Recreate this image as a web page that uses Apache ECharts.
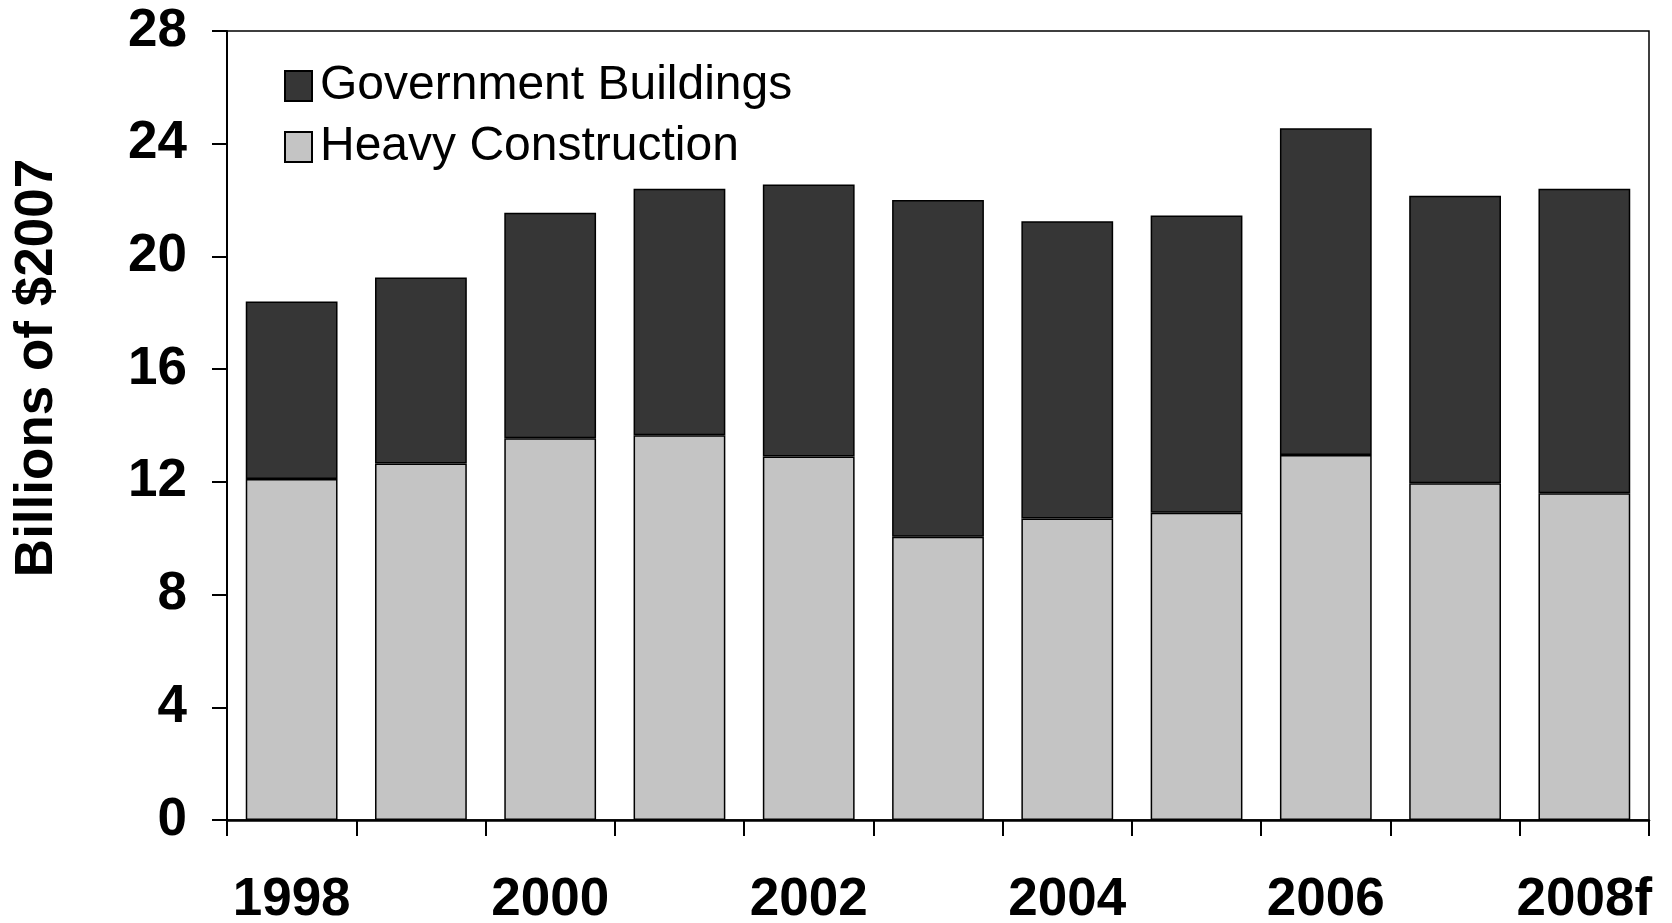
<!DOCTYPE html>
<html>
<head>
<meta charset="utf-8">
<script src="https://cdn.jsdelivr.net/npm/echarts@6/dist/echarts.min.js"></script>
<style>
  html, body { margin: 0; padding: 0; background: #fff; }
  #chart { width: 1672px; height: 923px; }
</style>
</head>
<body>
<div id="chart"></div>
<script>
const years = ['1998', '1999', '2000', '2001', '2002', '2003', '2004', '2005', '2006', '2007', '2008f'];
const heavyConstruction = [12.1, 12.65, 13.55, 13.65, 12.9, 10.05, 10.7, 10.9, 12.95, 11.95, 11.6];
const governmentBuildings = [6.3, 6.6, 8.0, 8.75, 9.65, 11.95, 10.55, 10.55, 11.6, 10.2, 10.8];

const font = "'Liberation Sans', Arial, sans-serif";

const chart = echarts.init(document.getElementById('chart'));

const option = {
  backgroundColor: '#fff',
  animation: false,
  grid: {
    left: 227,
    right: 23,
    top: 31,
    bottom: 103,
    containLabel: false,
    outerBoundsMode: 'none',
    show: true,
    borderColor: '#000',
    borderWidth: 1.5
  },
  legend: {
    orient: 'vertical',
    left: 279,
    top: 57,
    icon: 'rect',
    itemWidth: 27,
    itemHeight: 30,
    itemGap: 13,
    data: ['Government Buildings', 'Heavy Construction'],
    textStyle: { fontFamily: font, fontSize: 48, color: '#000', padding: [0, 0, 0, 3] }
  },
  graphic: [{
    type: 'text',
    x: 37,
    y: 368,
    rotation: Math.PI / 2,
    style: {
      text: 'Billions of $2007',
      fontFamily: font,
      fontWeight: 'bold',
      fontSize: 53,
      fill: '#000',
      align: 'center',
      verticalAlign: 'middle'
    }
  }],
  xAxis: {
    type: 'category',
    data: years,
    axisLine: { lineStyle: { color: '#000', width: 2.5 } },
    axisTick: { show: true, interval: 0, length: 16, lineStyle: { color: '#000', width: 2 } },
    axisLabel: {
      interval: 1,
      margin: 54,
      fontFamily: font,
      fontWeight: 'bold',
      fontSize: 53,
      color: '#000'
    }
  },
  yAxis: {
    type: 'value',
    min: 0,
    max: 28,
    interval: 4,
    splitLine: { show: false },
    axisLine: { show: true, lineStyle: { color: '#000', width: 2 } },
    axisTick: { show: true, length: 15, lineStyle: { color: '#000', width: 2 } },
    axisLabel: {
      margin: 40,
      fontFamily: font,
      fontWeight: 'bold',
      fontSize: 53,
      color: '#000'
    }
  },
  series: [
    {
      name: 'Heavy Construction',
      type: 'bar',
      stack: 'total',
      barWidth: '71%',
      data: heavyConstruction,
      itemStyle: { color: '#c4c4c4', borderColor: '#000', borderWidth: 1.5 }
    },
    {
      name: 'Government Buildings',
      type: 'bar',
      stack: 'total',
      barWidth: '71%',
      data: governmentBuildings,
      itemStyle: { color: '#363636', borderColor: '#000', borderWidth: 1.5 }
    }
  ]
};

chart.setOption(option);
</script>
</body>
</html>
